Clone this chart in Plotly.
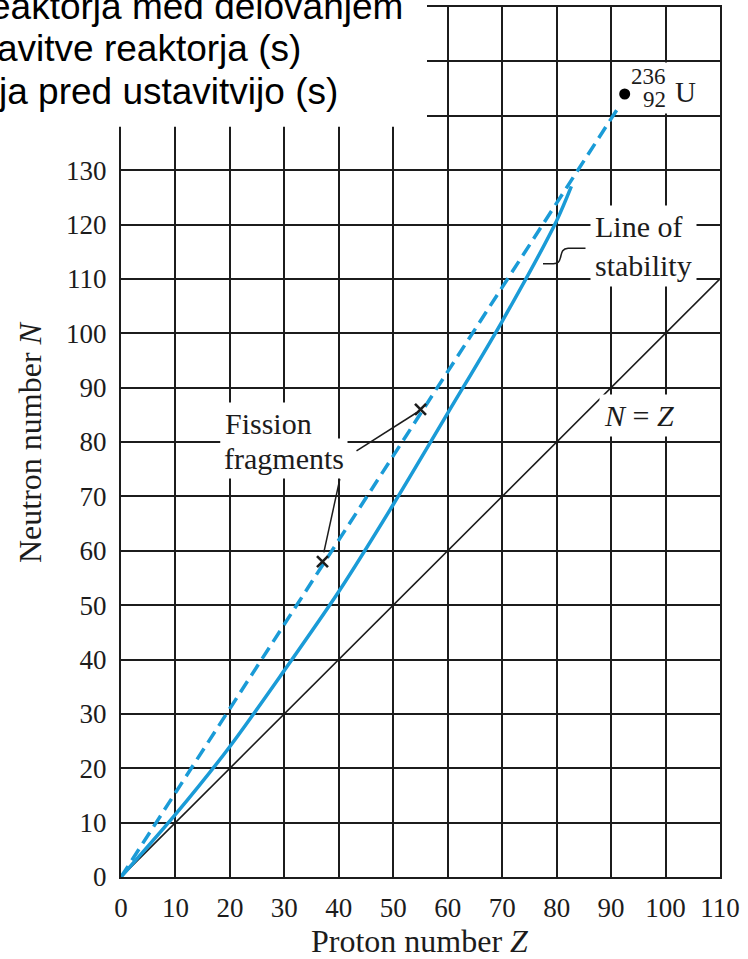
import plotly.graph_objects as go

# ---------------- data ----------------
z_ticks = list(range(0, 111, 10))
n_ticks = list(range(0, 161, 10))
# tick labels above 130 are hidden under the overlay box in the reference
n_ticktext = [str(v) if v <= 130 else "" for v in n_ticks]

# line of stability (Z, N)
stab_z = [0, 10, 20, 30, 40, 50, 60, 70, 80, 82.7]
stab_n = [0, 11.5, 24, 38, 52.5, 68.5, 85.3, 102.2, 120.7, 127]

# dashed line through fission fragments towards U-236
frag_line_z = [0, 91.2]
frag_line_n = [0, 141.3]

# fission fragments
frag_z = [37, 55]
frag_n = [58, 86]

# U-236
u_z = [92.5]
u_n = [144]

# N = Z
nz_z = [0, 110]
nz_n = [0, 110]

# overlay text lines (clipped at the left edge in the reference)
overlay_lines = ["eaktorja med delovanjem", "avitve reaktorja (s)", "ja pred ustavitvijo (s)"]

# ---------------- layout geometry ----------------
W, H = 748, 959
L, R, T, B = 121, 720, 5, 877

def px(x):
    return (x - L) / (R - L)

def py(y):
    return (B - y) / (B - T)

BLUE = "#1A9BD7"
INK = "#1c1c1c"
SERIF = "Liberation Serif"

fig = go.Figure()

fig.add_trace(go.Scatter(x=nz_z, y=nz_n, mode="lines",
                         line=dict(color=INK, width=1.6), hoverinfo="skip"))
fig.add_trace(go.Scatter(x=stab_z, y=stab_n, mode="lines",
                         line=dict(color=BLUE, width=3.5, shape="spline", smoothing=0.8),
                         hoverinfo="skip"))
fig.add_trace(go.Scatter(x=frag_line_z, y=frag_line_n, mode="lines",
                         line=dict(color=BLUE, width=3.5, dash="13px,7px"), hoverinfo="skip"))
fig.add_trace(go.Scatter(x=frag_z, y=frag_n, mode="markers",
                         marker=dict(symbol="x-thin", size=11, line=dict(color=INK, width=2.6)),
                         hoverinfo="skip"))
fig.add_trace(go.Scatter(x=u_z, y=u_n, mode="markers",
                         marker=dict(symbol="circle", size=11, color="black"), hoverinfo="skip"))

axis_common = dict(
    showgrid=True, gridcolor=INK, gridwidth=2,
    showline=True, linecolor=INK, linewidth=2, mirror=True,
    zeroline=False, ticks="", tickfont=dict(family=SERIF, size=27, color=INK),
)

fig.update_xaxes(range=[0, 110], tickvals=z_ticks, ticktext=[str(v) for v in z_ticks],
                 ticklabelstandoff=6, **axis_common)
fig.update_yaxes(range=[0, 160], tickvals=n_ticks, ticktext=n_ticktext,
                 ticklabelstandoff=7, **axis_common)

shapes = []
# leader lines for fission fragments
shapes.append(dict(type="line", xref="x", yref="y", x0=43.25, y0=78.35, x1=54.26, y1=85.38,
                   line=dict(color=INK, width=1.5)))
shapes.append(dict(type="line", xref="x", yref="y", x0=40.18, y0=73.16, x1=37.25, y1=59.69,
                   line=dict(color=INK, width=1.5)))
# squiggle leader for the line of stability
shapes.append(dict(type="path", xref="x", yref="y",
                   path="M 85.3,115.65 L 82.1,115.65 C 80.9,115.6 80.9,114.6 80.7,113.9 "
                        "C 80.5,113.1 80.3,112.85 79.4,112.8 L 77.5,112.8",
                   line=dict(color=INK, width=1.5)))
# white overlay box at top left
shapes.append(dict(type="rect", xref="paper", yref="paper",
                   x0=px(-5), x1=px(427), y0=py(125), y1=py(-5),
                   fillcolor="white", line=dict(width=0), layer="above"))

annotations = []
txt_font = dict(family=SERIF, size=30, color=INK)
annotations.append(dict(x=18.2, y=83.4, xref="x", yref="y", text="Fission", showarrow=False,
                        xanchor="left", yanchor="middle", font=txt_font,
                        bgcolor="white", borderpad=4))
annotations.append(dict(x=18.2, y=77.0, xref="x", yref="y", text="fragments", showarrow=False,
                        xanchor="left", yanchor="middle", font=txt_font,
                        bgcolor="white", borderpad=3))
annotations.append(dict(x=86.2, y=116.0, xref="x", yref="y", text="Line of<br>stability",
                        showarrow=False, xanchor="left", yanchor="middle", align="left",
                        font=txt_font, bgcolor="white", borderpad=4))
annotations.append(dict(x=95.05, y=84.8, xref="x", yref="y", text="<i>N</i> = <i>Z</i>",
                        showarrow=False, xanchor="center", yanchor="middle",
                        font=txt_font, bgcolor="white", borderpad=4))
# U-236 label
annotations.append(dict(x=100.4, y=147.2, xref="x", yref="y", text="236", showarrow=False,
                        xanchor="right", yanchor="middle",
                        font=dict(family=SERIF, size=23, color=INK), bgcolor="white", borderpad=1))
annotations.append(dict(x=100.4, y=142.9, xref="x", yref="y", text="92", showarrow=False,
                        xanchor="right", yanchor="middle",
                        font=dict(family=SERIF, size=23, color=INK), bgcolor="white", borderpad=1))
annotations.append(dict(x=103.6, y=144.3, xref="x", yref="y", text="U", showarrow=False,
                        xanchor="center", yanchor="middle",
                        font=dict(family=SERIF, size=29, color=INK), bgcolor="white", borderpad=1))
# axis titles
annotations.append(dict(x=px(420), y=py(941), xref="paper", yref="paper",
                        text="Proton number <i>Z</i>", showarrow=False,
                        xanchor="center", yanchor="middle",
                        font=dict(family=SERIF, size=32, color=INK)))
annotations.append(dict(x=px(30), y=py(441), xref="paper", yref="paper",
                        text="Neutron number <i>N</i>", showarrow=False, textangle=-90,
                        xanchor="center", yanchor="middle",
                        font=dict(family=SERIF, size=32, color=INK)))
# overlay text (clipped at the left edge)
ov_font = dict(family="Liberation Sans", size=37, color="black")
for line, xr, yc in zip(overlay_lines, [405, 303, 340], [4, 47, 90]):
    annotations.append(dict(x=px(xr), y=py(yc), xref="paper", yref="paper", text=line,
                            showarrow=False, xanchor="right", yanchor="middle", font=ov_font))

fig.update_layout(
    width=W, height=H,
    margin=dict(l=L, r=W - R, t=T, b=H - B),
    paper_bgcolor="white", plot_bgcolor="white",
    showlegend=False,
    shapes=shapes, annotations=annotations,
)

fig.write_html("out.html", config={"displayModeBar": False},
               post_script="document.body.style.margin='0';document.body.style.overflow='hidden';")
